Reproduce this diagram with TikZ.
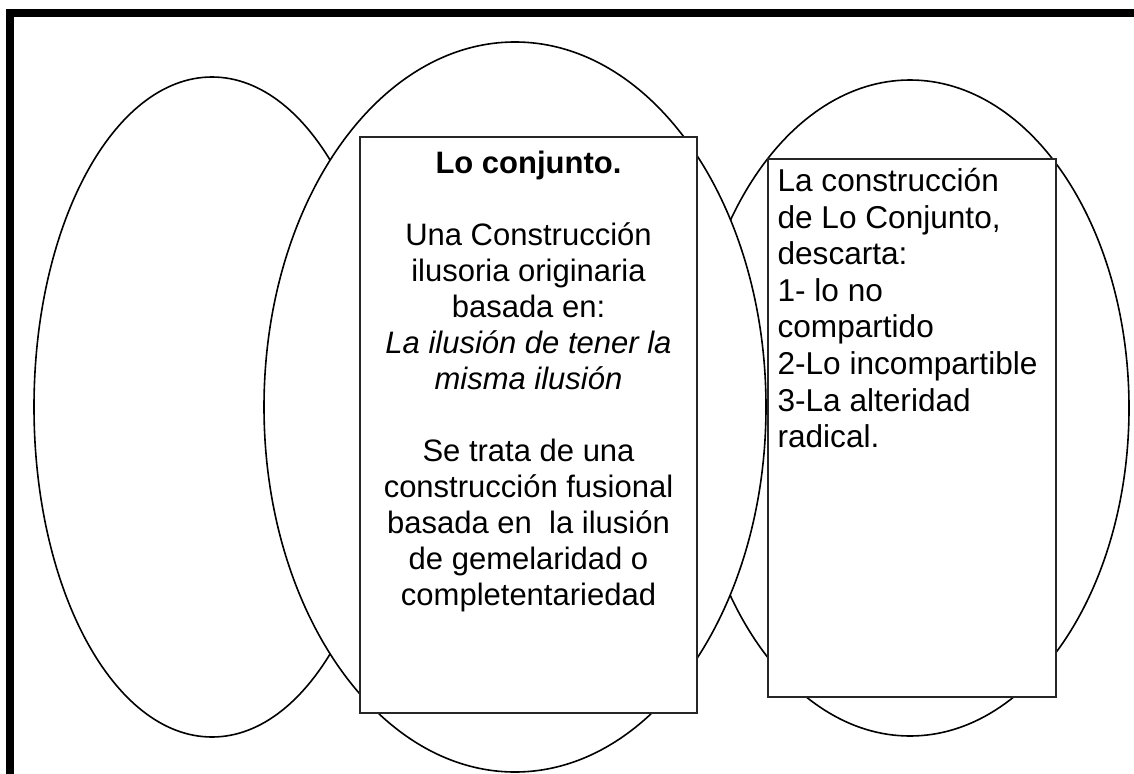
\documentclass[tikz,border=0pt]{standalone}
\usepackage{fontspec}
\setmainfont{Liberation Sans}
\usetikzlibrary{shapes.geometric,positioning}

\begin{document}
\begin{tikzpicture}[x=1pt,y=-1pt,
		txt/.style={font=\fontsize{31}{36}\selectfont,inner sep=0pt},
		txtdos/.style={font=\fontsize{31.6}{36.6}\selectfont,inner sep=0pt},
		caja/.style={draw=black!85,line width=1.3pt,fill=white,inner sep=0pt}]
			\useasboundingbox (0,0) rectangle (1134,773);
			\clip (0,0) rectangle (1134,773);
			
			\draw[line width=8pt] (10,800) -- (10,13) -- (1150,13);
			
			\begin{scope}[every node/.style={ellipse,draw,line width=1.6pt,inner sep=0pt}]
			\node 	(izq) at (212, 407) 	[minimum width=356pt, minimum height=660pt] {};
			\node 	(der) at (910, 408) 	[minimum width=438pt, minimum height=656pt] {};
			
			\node[fill=white]	(med) at (515, 407) 	[minimum width=502pt, minimum height=730pt] {};
			\end{scope}
			
			\node[caja]	(cajamed) at (528.5, 425) 	[minimum width=337pt, minimum height=576pt] {};
			\node[caja]	(cajader) at (912, 428) 	[minimum width=288pt, minimum height=538pt] {};
			
			\node[txt, align=center, below=11.8pt of cajamed.north] (txtmed) {\strut\textbf{Lo conjunto.}\\[36pt]
				Una Construcción\\ilusoria originaria\\basada en:\\
				\textit{La ilusión de tener la}\\\textit{misma ilusión}\\[36pt]
				Se trata de una\\construcción fusional\\basada en\ \ la ilusión\\
				de gemelaridad o\\completentariedad};
			
			\node[txtdos, align=left, below right=7.4pt and 10pt of cajader.north west] (txtder) {\strut La construcción\\de Lo Conjunto,\\descarta:\\
				1- lo no\\compartido\\2-Lo incompartible\\3-La alteridad\\radical.};
			\end{tikzpicture}
\end{document}
